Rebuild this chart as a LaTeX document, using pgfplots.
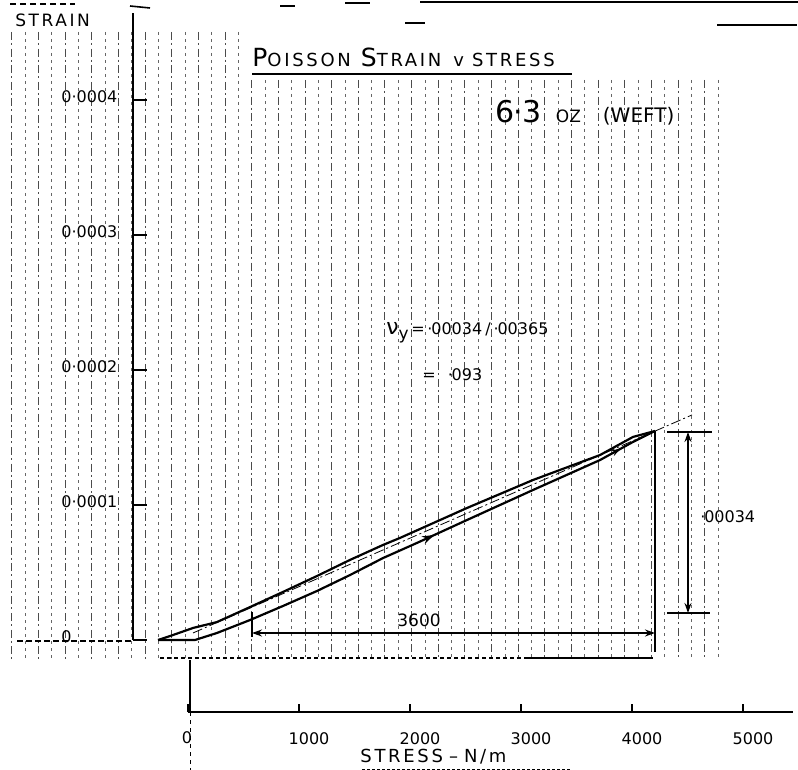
\documentclass[border=0pt]{standalone}
\usepackage{pgfplots}
\pgfplotsset{compat=1.18}
\usepackage{fontspec}
\setmainfont{DejaVu Sans}
\newfontfamily\hand[LetterSpace=15]{DejaVu Sans}
\newcommand\fs[1]{\fontsize{#1}{#1}\selectfont}
\usetikzlibrary{arrows.meta,decorations.markings}

% lower branch (loading)
\pgfplotstableread{
s e
-270 0
63 0
261 5.2e-6
559 14.8e-6
856 25.2e-6
1162 36.3e-6
1459 48.1e-6
1757 60.7e-6
2063 71.9e-6
2514 88.9e-6
3108 111.1e-6
3712 133.3e-6
4009 146.7e-6
4207 154.8e-6
}\lowerbranch
% upper branch
\pgfplotstableread{
s e
-270 0
-135 3.7e-6
45 8.9e-6
261 13.3e-6
559 24.4e-6
856 35.6e-6
1162 47.4e-6
1459 59.3e-6
1757 70.4e-6
1910 75.6e-6
2514 97.8e-6
3108 118.5e-6
3712 137.0e-6
4009 150.4e-6
4207 154.8e-6
}\upperbranch
% fitted line
\pgfplotstableread{
s e
45 5.2e-6
4541 166.7e-6
}\fitline

\begin{document}
\begin{tikzpicture}
\begin{scope}[x=0.5pt,y=-0.5pt]
\path[use as bounding box] (0,0) rectangle (798,770);
% background ruling of the scanned sheet
\foreach \k in {0,...,53}{
  \pgfmathsetmacro{\gx}{11.7+13.33*\k}
  \pgfmathsetmacro{\gy}{\gx<250 ? 32 : 80}
  \ifodd\k
    \draw[black!60, line width=0.4pt, dash pattern=on 1.5pt off 2pt] (\gx,\gy) -- (\gx,660);
  \else
    \draw[black!70, line width=0.45pt, dash pattern=on 4pt off 1.5pt on 1pt off 1.8pt] (\gx,\gy) -- (\gx,660);
  \fi
}
% scraps at top
\draw[line width=1pt] (420,2) -- (798,2);
\draw[line width=0.8pt, dash pattern=on 3pt off 2pt] (10,4) -- (75,4);
\draw[line width=0.8pt] (130,6) -- (150,8);
\draw[line width=0.8pt] (280,6) -- (295,6);
\draw[line width=0.8pt] (345,3) -- (370,3);
\draw[line width=0.8pt] (405,23) -- (425,23);
\draw[line width=0.8pt] (717,25) -- (797,25);
% zero baseline left of axis
\draw[line width=0.6pt, dash pattern=on 3pt off 1.5pt] (17,641) -- (133,641);
\draw[line width=0.6pt, dash pattern=on 2pt off 1.5pt] (160,658) -- (528,658);
\draw[line width=0.8pt] (528,658) -- (653,658);
% zero of stress scale
\draw[line width=0.9pt] (190,660) -- (190,712);
\draw[line width=0.5pt, dash pattern=on 2pt off 2pt] (190,712) -- (190,770);
\end{scope}

% strain axis with the curves
\begin{axis}[
  at={(66.5pt,-320pt)}, anchor=south west,
  scale only axis, width=330pt, height=313.5pt,
  xmin=-495.5, xmax=5450.5, ymin=0, ymax=4.644e-4,
  axis x line=none, axis y line=left,
  axis line style={line width=1pt, -},
  clip=false,
  ytick={0,1e-4,2e-4,3e-4,4e-4},
  yticklabels={0,0·0001,0·0002,0·0003,0·0004},
  scaled y ticks=false,
  tick align=inside, major tick length=7pt,
  ytick style={line width=1pt, black},
  yticklabel style={anchor=west, inner sep=0pt, xshift=-36pt, yshift=1.5pt, font=\fs{8}},
]
\addplot[black, line width=1.1pt, postaction={decorate},
  decoration={markings,
    mark=at position 0.55 with {\arrow{Stealth[length=6pt,width=4pt]}},
    mark=at position 0.93 with {\arrow{Stealth[length=5pt,width=3pt]}}}]
  table[x=s,y=e] {\lowerbranch};
\addplot[black, line width=1.1pt] table[x=s,y=e] {\upperbranch};
\addplot[black, line width=0.4pt, dash pattern=on 5pt off 1.5pt on 1pt off 1.5pt] table[x=s,y=e] {\fitline};
\end{axis}

% stress axis
\begin{axis}[
  at={(94pt,-356pt)}, anchor=south west,
  scale only axis, width=302.5pt, height=20pt,
  xmin=0, xmax=5450, ymin=0, ymax=1,
  axis x line=bottom, axis y line=none,
  axis line style={line width=1.2pt, -},
  xtick={0,1000,2000,3000,4000,5000},
  xticklabels={,1000,2000,3000,4000,5000},
  tick align=inside, major tick length=4pt,
  xtick style={line width=0.8pt, black},
  xticklabel style={anchor=north, yshift=-7pt, xshift=5pt, font=\fs{8}},
]
\end{axis}

\begin{scope}[x=0.5pt,y=-0.5pt]
% dimension lines
\draw[line width=1pt] (655,431) -- (655,652);
\draw[line width=0.8pt] (667,432) -- (712,432);
\draw[line width=0.8pt] (667,613) -- (710,613);
\draw[line width=0.8pt, {Stealth[open,length=5pt,width=3.5pt]}-{Stealth[open,length=5pt,width=3.5pt]}] (688,432) -- (688,613);
\draw[line width=0.8pt] (252,612) -- (252,637);
\draw[line width=0.8pt, {Stealth[open,length=5pt,width=3.5pt]}-{Stealth[length=5pt,width=3.5pt]}] (252,633) -- (655,633);
% texts
\node[anchor=center, inner sep=0pt] at (187,738) {\fs{8}0};
\node[anchor=west, inner sep=0pt] at (15,20) {\hand\fs{8.5}STRAIN};
\node[anchor=base west, inner sep=0pt] at (252,67) {\hand\fs{12.5}P\fs{9}OISSON\hspace{5pt}\fs{12.5}S\fs{9}TRAIN\hspace{6pt}v\hspace{4pt}STRESS};
\draw[line width=0.7pt] (252,74) -- (572,74);
\node[anchor=west, inner sep=0pt] at (495,113) {\fs{15}6\kern-0.3pt·\kern-0.3pt3\hspace{7pt}\fs{8.5}OZ\hspace{11pt}\fs{10}(WEFT)};
\node[anchor=west, inner sep=0pt] at (386,333) {\fs{11}ν\raisebox{-2.5pt}{\fs{8.5}y}\fs{8}\,=\,·\kern-0.6pt00034\hspace{1.5pt}/\hspace{1.5pt}·\kern-0.6pt00365};
\node[anchor=west, inner sep=0pt] at (422,375) {\fs{8}=\hspace{6pt}·\kern-0.6pt093};
\node[anchor=west, inner sep=0pt] at (700,517) {\fs{8}·\kern-0.6pt00034};
\node[anchor=west, inner sep=0pt] at (397,620) {\fs{8.5}3600};
\node[anchor=west, inner sep=0pt] at (360,757) {\hand\fs{9}STRESS\hspace{3pt}–\hspace{3pt}N/m};
\draw[line width=0.4pt, dash pattern=on 1.5pt off 1pt] (362,769) -- (570,769);
\end{scope}
\end{tikzpicture}
\end{document}
